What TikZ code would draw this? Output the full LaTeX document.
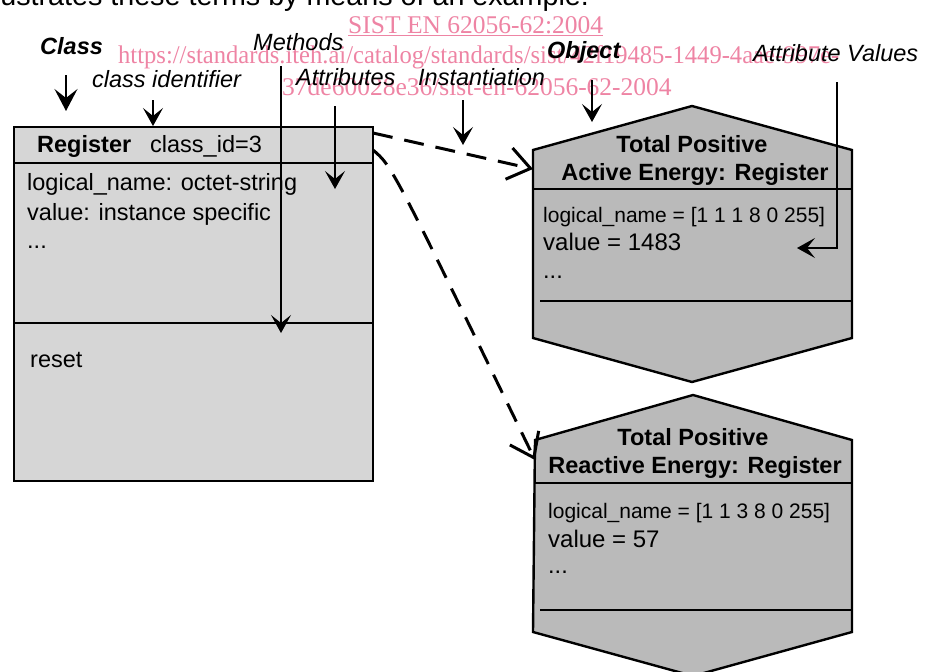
\documentclass[tikz,border=0pt]{standalone}
\usepackage{fontspec}
\setmainfont{Liberation Sans}
\newfontfamily\wmfont{Liberation Serif}
\usetikzlibrary{arrows.meta}
\definecolor{clsfill}{RGB}{214,214,214}
\definecolor{objfill}{RGB}{186,186,186}
\definecolor{wmpink}{RGB}{238,132,164}
\begin{document}
\begin{tikzpicture}[x=1pt,y=-1pt,
  txt/.style={font=\fontsize{23.5}{28}\selectfont, inner sep=0pt, anchor=base west},
  small/.style={font=\fontsize{21}{25}\selectfont, inner sep=0pt, anchor=base west},
  boldc/.style={font=\fontsize{23.5}{28}\selectfont\bfseries, inner sep=0pt, anchor=base},
  lbl/.style={font=\fontsize{23.5}{28}\selectfont\itshape, inner sep=0pt, anchor=base west},
  blbl/.style={font=\fontsize{23.5}{28}\selectfont\bfseries\itshape, inner sep=0pt, anchor=base west},
  wm/.style={font=\fontsize{25.5}{30}\selectfont\wmfont, text=wmpink, inner sep=0pt, anchor=base west},
  boxline/.style={line width=2.4pt, line join=miter},
  leader/.style={line width=1.2pt, -{Stealth[length=18pt,width=20pt,inset=8pt]}},
  inst/.style={line width=3pt, dash pattern=on 20pt off 12pt, -{Straight Barb[length=22pt,width=32pt,line width=3pt]}}]
\useasboundingbox (0,0) rectangle (930,672);
\begin{scope}
\clip (0,0) rectangle (930,672);
\node[font=\fontsize{28.7}{34}\selectfont, inner sep=0pt, anchor=base west] (toptext) at (-19,5) {illustrates these terms by means of an example.};
% watermark
\node[wm] (wm1) at (348,33) {\underline{SIST EN 62056-62:2004}};
\node[wm] (wm2) at (118,63) {\scalebox{0.964}[1]{https://standards.iteh.ai/catalog/standards/sist/42f19485-1449-4aae-997e-}};
\node[wm] (wm3) at (282,95) {37de60028e36/sist-en-62056-62-2004};

% class box
\node[boxline, draw, fill=clsfill, minimum width=359pt, minimum height=354pt, anchor=north west, inner sep=0pt] (cls) at (13,126) {};
\coordinate (clsHL) at (13,163); \coordinate (clsHR) at (372,163);
\coordinate (clsML) at (13,323); \coordinate (clsMR) at (372,323);
\draw[boxline] (clsHL) -- (clsHR);
\draw[boxline] (clsML) -- (clsMR);
\node[txt, font=\fontsize{23.5}{28}\selectfont\bfseries] (regname) at (37,152) {Register};
\node[txt] (clsid) at (150,152) {class\_id=3};
\node[txt] (attr1) at (27,190) {logical\_name: octet-string};
\node[txt] (attr2) at (27,220) {value: instance specific};
\node[txt] (attr3) at (27,248) {...};
\node[txt] (meth1) at (30,367) {reset};

% object 1
\coordinate (o1T) at (692,106); \coordinate (o1LT) at (533,150); \coordinate (o1RT) at (852,150);
\coordinate (o1LB) at (533,338); \coordinate (o1RB) at (852,338); \coordinate (o1B) at (692,382);
\draw[boxline, fill=objfill] (o1T) -- (o1RT) -- (o1RB) -- (o1B) -- (o1LB) -- (o1LT) -- cycle;
\coordinate (o1HL) at (533,189); \coordinate (o1HR) at (852,189);
\coordinate (o1ML) at (540,301); \coordinate (o1MR) at (852,301);
\draw[boxline] (o1HL) -- (o1HR);
\draw[boxline] (o1ML) -- (o1MR);
\node[boldc] (o1n1) at (692,152) {Total Positive};
\node[boldc] (o1n2) at (695,180) {Active Energy: Register};
\node[small] (o1a1) at (543,222) {logical\_name = [1 1 1 8 0 255]};
\node[txt, font=\fontsize{24}{28}\selectfont] (o1a2) at (543,250) {value = 1483};
\node[txt] (o1a3) at (543,278) {...};

% object 2
\coordinate (o2T) at (693,395); \coordinate (o2LT) at (535,440); \coordinate (o2RT) at (852,440);
\coordinate (o2LB) at (533,632); \coordinate (o2RB) at (852,632); \coordinate (o2B) at (693,676);
\draw[boxline, fill=objfill] (o2T) -- (o2RT) -- (o2RB) -- (o2B) -- (o2LB) -- (o2LT) -- cycle;
\coordinate (o2HL) at (535,483); \coordinate (o2HR) at (852,483);
\coordinate (o2ML) at (540,610); \coordinate (o2MR) at (852,610);
\draw[boxline] (o2HL) -- (o2HR);
\draw[boxline] (o2ML) -- (o2MR);
\node[boldc] (o2n1) at (693,445) {Total Positive};
\node[boldc] (o2n2) at (695,473) {Reactive Energy: Register};
\node[small] (o2a1) at (548,518) {logical\_name = [1 1 3 8 0 255]};
\node[txt, font=\fontsize{24}{28}\selectfont] (o2a2) at (548,547) {value = 57};
\node[txt] (o2a3) at (548,573) {...};

% labels
\node[blbl] (lclass) at (40,54) {Class};
\node[lbl] (lmeth) at (253,50) {Methods};
\node[lbl] (lcid) at (92,87) {class identifier};
\node[lbl] (lattr) at (296,85) {Attributes};
\node[lbl] (linst) at (418,85) {Instantiation};
\node[blbl] (lobj) at (547,58) {Object};
\node[lbl] (lval) at (753,61) {Attribute Values};

% leader arrows
\coordinate (aClassS) at (66,75);  \coordinate (aClassE) at (66,111);
\coordinate (aCidS) at (153,100);  \coordinate (aCidE) at (153,126);
\coordinate (aMethS) at (281,66);  \coordinate (aMethE) at (281,333);
\coordinate (aAttrS) at (335,106); \coordinate (aAttrE) at (335,189);
\coordinate (aInstS) at (463,100); \coordinate (aInstE) at (463,145);
\coordinate (aObjS) at (592,80);   \coordinate (aObjE) at (592,122);
\coordinate (aValS) at (837,82); \coordinate (aValC) at (837,248); \coordinate (aValE) at (797,248);
\draw[leader, line width=1.6pt, -{Stealth[length=22pt,width=23pt,inset=9pt]}] (aClassS) -- (aClassE);
\draw[leader] (aCidS) -- (aCidE);
\draw[leader] (aMethS) -- (aMethE);
\draw[leader] (aAttrS) -- (aAttrE);
\draw[leader] (aInstS) -- (aInstE);
\draw[leader] (aObjS) -- (aObjE);
\draw[leader] (aValS) -- (aValC) -- (aValE);

% instantiation connectors
\coordinate (d1S) at (373,133); \coordinate (d1E) at (533,169);
\coordinate (d2S) at (373,150); \coordinate (d2C) at (392,166); \coordinate (d2E) at (535,460);
\draw[inst] (d1S) -- (d1E);
\draw[inst] (d2S) .. controls (d2C) .. (d2E);
\end{scope}
\end{tikzpicture}
\end{document}
